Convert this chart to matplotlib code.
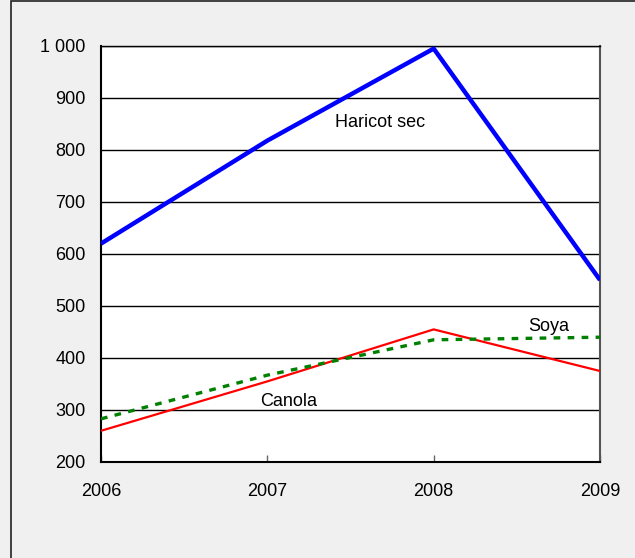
import matplotlib
matplotlib.use("Agg")
import matplotlib.pyplot as plt
from matplotlib.patches import Rectangle

years = [2006, 2007, 2008, 2009]
haricot = [620, 818, 995, 550]
canola = [260, 355, 455, 375]
soya = [283, 367, 435, 440]
yticks = [200, 300, 400, 500, 600, 700, 800, 900, 1000]
ytick_labels = ["200", "300", "400", "500", "600", "700", "800", "900", "1 000"]

plt.rcParams['font.family'] = ['Liberation Sans', 'DejaVu Sans']

W, H = 635, 558
fig = plt.figure(figsize=(W / 100, H / 100), dpi=100)
fig.patch.set_facecolor('#f0f0f0')
fig.patches.append(Rectangle((11 / W, -0.1), 1.2, 1 - 1.5 / H + 0.1, transform=fig.transFigure,
                             fill=False, edgecolor='#222222', linewidth=1.2))

ax = fig.add_axes([101 / W, 1 - 462 / H, (600 - 101) / W, (462 - 46) / H])
ax.set_facecolor('white')

ax.plot(years, haricot, color='#0000ff', linewidth=3.2, solid_capstyle='butt', zorder=3)
ax.plot(years, canola, color='#ff0000', linewidth=1.6, zorder=3)
ax.plot(years, soya, color='#008000', linewidth=2.4, linestyle=(0, (2, 2.2)), zorder=3)

ax.set_xlim(2006, 2009)
ax.set_ylim(200, 1000)
ax.set_yticks(yticks)
ax.set_yticklabels(ytick_labels)
ax.set_xticks(years)
ax.set_xticklabels([str(y) for y in years])
ax.yaxis.grid(True, color='black', linewidth=1.0)
ax.set_axisbelow(True)
ax.tick_params(axis='y', length=0, pad=11, labelsize=13)
ax.tick_params(axis='x', direction='in', length=5, width=1, color='#666666', pad=15, labelsize=13)

for s in ['left', 'bottom']:
    ax.spines[s].set_color('black')
    ax.spines[s].set_linewidth(1.5)
ax.spines['top'].set_color('black')
ax.spines['top'].set_linewidth(1.0)
ax.spines['right'].set_color('#555555')
ax.spines['right'].set_linewidth(1.5)

ax.text(2007.68, 852, "Haricot sec", fontsize=13, ha='center', va='center')
ax.text(2007.13, 317, "Canola", fontsize=13, ha='center', va='center')
ax.text(2008.69, 461, "Soya", fontsize=13, ha='center', va='center')

fig.savefig("out.png", dpi=100, facecolor=fig.get_facecolor())
